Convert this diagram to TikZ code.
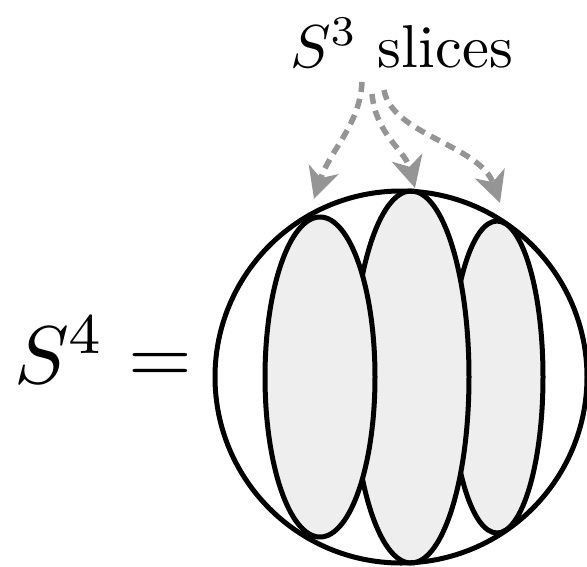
\documentclass[tikz,border=0pt]{standalone}
\usetikzlibrary{arrows.meta}
\definecolor{slicefill}{HTML}{EEEEEE}
\definecolor{arrowgray}{HTML}{959595}
\tikzset{
  slice/.style={draw=black, line width=5pt, fill=slicefill},
  sphere/.style={draw=black, line width=5pt},
  pointer/.style={draw=arrowgray, line width=5.5pt, dash pattern=on 10pt off 7pt,
    -{Stealth[length=31pt,width=31pt,inset=9pt,fill=arrowgray]}},
  lbl/.style={inner sep=0pt, outer sep=0pt}
}
\begin{document}
\begin{tikzpicture}[x=1pt,y=-1pt]
\useasboundingbox (0,0) rectangle (587,566);
% sphere and slices
\draw[slice] (497,377) ellipse [x radius=46, y radius=156];
\draw[slice] (411,377) ellipse [x radius=58, y radius=186];
\draw[slice] (320,377) ellipse [x radius=55, y radius=160];
\draw[sphere] (401,377) circle [radius=186];
% labels
\node[lbl, anchor=base west] (eq) at (14,383) {\resizebox{178pt}{!}{$S^4=$}};
\node[lbl, anchor=base west] (sl) at (290,67) {\resizebox{223pt}{!}{$S^3$ slices}};
% pointer anchors
\coordinate (s1) at (362,82);
\coordinate (s2) at (372,94);
\coordinate (s3) at (384,90);
\coordinate (t1) at (314,199);
\coordinate (t2) at (415,188);
\coordinate (t3) at (500,203);
\draw[pointer] (s1) .. controls (360,125) and (330,150) .. (t1);
\draw[pointer] (s2) .. controls (376,135) and (405,150) .. (t2);
\draw[pointer] (s3) .. controls (392,135) and (480,145) .. (t3);
\end{tikzpicture}
\end{document}
